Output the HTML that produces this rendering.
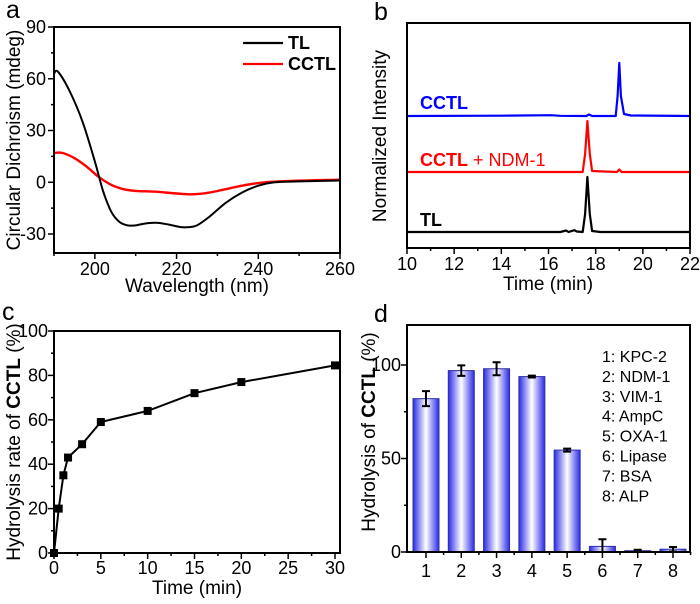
<!DOCTYPE html>
<html><head><meta charset="utf-8"><style>
body{margin:0;background:#fff}
svg text{font-family:"Liberation Sans",sans-serif}
</style></head><body>
<svg id="fig" width="700" height="599" viewBox="0 0 700 599" xmlns="http://www.w3.org/2000/svg">
<defs>
<linearGradient id="barg" x1="0" x2="1" y1="0" y2="0">
<stop offset="0" stop-color="#2a2ae8"/><stop offset="0.5" stop-color="#ffffff"/><stop offset="1" stop-color="#2a2ae8"/>
</linearGradient>
</defs>
<g id="pa"></g>
<g id="pb"></g>
<g id="pc"></g>
<g id="pd"></g>
</svg>
<script>
// Panel a data
const aWave = [190,191,194,197,200,202,204,206,208,210,212,215,218,221,223,225,228,232,236,240,244,250,260];
const aTL   = [63,64,52,35,12,-5,-17,-23,-25,-25,-24,-23.5,-24.5,-26,-26,-25,-20,-12,-6,-2,0,0.5,1];
const aWave2 = [190,192,195,198,201,204,207,210,215,220,224,228,232,236,240,245,260];
const aCCTL = [17,17,14,9,3,-1.5,-4,-5,-5.5,-6.5,-7,-6,-4,-2,-0.5,0.5,1.5];
const aXTicks = [200,220,240,260];
const aYTicks = [-30,0,30,60,90];
// Panel b data (time, intensity)
const bTime = [10,14,16.1,16.5,17.6,17.72,17.85,18.85,18.93,19.0,19.07,19.2,19.5,22];
const bCCTL = [0,0.3,0.8,0.2,0,1.5,0,0,20,53,20,2,0.5,0];
const bTime2 = [10,14,17.45,17.55,17.65,17.75,17.85,18.9,19.0,19.1,22];
const bNDM = [0,0,0,18,51,18,1,0,2.5,0,0];
const bTime3 = [10,16.5,16.75,16.85,17.1,17.2,17.45,17.55,17.65,17.75,17.85,18.2,22];
const bTL = [0,0,1.5,0,1.8,0.5,0,18,55,18,1,0,0];
const bXTicks = [10,12,14,16,18,20,22];
// Panel c data
const cTime = [0,0.5,1,1.5,3,5,10,15,20,30];
const cRate = [0,20,35,43,49,59,64,72,77,84.5];
const cXTicks = [0,5,10,15,20,25,30];
const cYTicks = [0,20,40,60,80,100];
// Panel d data
const dCats = [1,2,3,4,5,6,7,8];
const dVals = [82,97,98,93.8,54.5,3,0.7,1.5];
const dErr = [4,2.8,3.5,0.5,0.8,3.8,0.5,1.2];
const dNames = ["1: KPC-2","2: NDM-1","3: VIM-1","4: AmpC","5: OXA-1","6: Lipase","7: BSA","8: ALP"];
const dYTicks = [0,50,100];

const NS="http://www.w3.org/2000/svg";
function mk(parent,tag,attrs,txt){const e=document.createElementNS(NS,tag);for(const k in attrs)e.setAttribute(k,attrs[k]);if(txt!==undefined)e.textContent=txt;parent.appendChild(e);return e;}
function lin(d0,d1,p0,p1){return v=>p0+(v-d0)*(p1-p0)/(d1-d0);}
function frame(g,x0,y0,x1,y1){const r=mk(g,'rect',{x:x0,y:y0,width:x1-x0,height:y1-y0,fill:'none',stroke:'#000','stroke-width':2});}
function pathD(xs,ys,sx,sy){return xs.map((v,i)=>(i?'L':'M')+sx(v).toFixed(1)+','+sy(ys[i]).toFixed(1)).join('');}
function smoothD(xs,ys,sx,sy){
 const P=xs.map((v,i)=>[sx(v),sy(ys[i])]);let d='M'+P[0][0].toFixed(1)+','+P[0][1].toFixed(1);
 for(let i=0;i<P.length-1;i++){const p0=P[i-1]||P[i],p1=P[i],p2=P[i+1],p3=P[i+2]||P[i+1];
  const c1=[p1[0]+(p2[0]-p0[0])/6,p1[1]+(p2[1]-p0[1])/6],c2=[p2[0]-(p3[0]-p1[0])/6,p2[1]-(p3[1]-p1[1])/6];
  d+='C'+c1.map(n=>n.toFixed(1)).join(',')+' '+c2.map(n=>n.toFixed(1)).join(',')+' '+p2.map(n=>n.toFixed(1)).join(',');}
 return d;}

// ---------- Panel a ----------
(function(){
const g=document.getElementById('pa');
const X0=54,X1=340,Y0=27,Y1=253;
const sx=lin(190,260,X0,X1), sy=lin(90,-30,27,234);
let t=mk(g,'text',{x:6,y:18,'font-size':25},'a');

for(let v=190;v<=260;v+=10){mk(g,'line',{x1:sx(v),x2:sx(v),y1:Y1,y2:Y1+(v%20===0?6:3),stroke:'#000','stroke-width':1.5});}
aXTicks.forEach(v=>{const e=mk(g,'text',{x:sx(v),y:Y1+22,'font-size':18,'text-anchor':'middle'},v);});
for(let v=-30;v<=90;v+=15){mk(g,'line',{x1:X0,x2:X0-(v%30===0?6:3),y1:sy(v),y2:sy(v),stroke:'#000','stroke-width':1.5});}
aYTicks.forEach(v=>{const e=mk(g,'text',{x:X0-8,y:sy(v)+6,'font-size':18,'text-anchor':'end'},v);});
let p=mk(g,'path',{d:smoothD(aWave2,aCCTL,sx,sy),fill:'none',stroke:'#f00','stroke-width':2.4});

p=mk(g,'path',{d:smoothD(aWave,aTL,sx,sy),fill:'none',stroke:'#000','stroke-width':2});

frame(g,X0,Y0,X1,Y1);
mk(g,'line',{x1:243,x2:283,y1:43,y2:43,stroke:'#000','stroke-width':2.2});
t=mk(g,'text',{x:288,y:49,'font-size':18,'font-weight':'bold'},'TL');
mk(g,'line',{x1:243,x2:283,y1:64,y2:64,stroke:'#f00','stroke-width':2.2});
t=mk(g,'text',{x:288,y:70,'font-size':18,'font-weight':'bold'},'CCTL');
t=mk(g,'text',{x:197,y:292,'font-size':19,'text-anchor':'middle'},'Wavelength (nm)');
t=mk(g,'text',{x:0,y:0,'font-size':19,'text-anchor':'middle',transform:'translate(20,140) rotate(-90)'},'Circular Dichroism (mdeg)');
})();

// ---------- Panel b ----------
(function(){
const g=document.getElementById('pb');
const X0=407,X1=690,Y0=23,Y1=248;
const sx=lin(10,22,X0,X1);
let t=mk(g,'text',{x:374,y:20,'font-size':25},'b');

for(let v=10;v<=22;v+=1){mk(g,'line',{x1:sx(v),x2:sx(v),y1:Y1,y2:Y1+(v%2===0?6:3),stroke:'#000','stroke-width':1.5});}
bXTicks.forEach(v=>{const e=mk(g,'text',{x:sx(v),y:Y1+22,'font-size':18,'text-anchor':'middle'},v);});
const traces=[[bTime,bCCTL,116,'#00f','cctl-trace'],[bTime2,bNDM,172,'#f00','cctl-ndm1-trace'],[bTime3,bTL,232,'#000','tl-trace']];
traces.forEach(tr=>{const sy=v=>tr[2]-v;const p=mk(g,'path',{d:pathD(tr[0],tr[1],sx,sy),fill:'none',stroke:tr[3],'stroke-width':2.2,'stroke-linejoin':'round'});});
frame(g,X0,Y0,X1,Y1);
t=mk(g,'text',{x:420,y:109,'font-size':18,'font-weight':'bold',fill:'#00f'},'CCTL');
t=mk(g,'text',{x:420,y:166,'font-size':18,fill:'#f00'});
mk(t,'tspan',{'font-weight':'bold'},'CCTL');mk(t,'tspan',{},' + NDM-1');
t=mk(g,'text',{x:420,y:226,'font-size':18,'font-weight':'bold'},'TL');
t=mk(g,'text',{x:548,y:290,'font-size':19,'text-anchor':'middle'},'Time (min)');
t=mk(g,'text',{x:0,y:0,'font-size':19,'text-anchor':'middle',transform:'translate(386,136) rotate(-90)'},'Normalized Intensity');
})();

// ---------- Panel c ----------
(function(){
const g=document.getElementById('pc');
const X0=54,X1=340,Y0=331,Y1=553;
const sx=lin(0,30,X0,335), sy=lin(0,100,Y1,Y0);
let t=mk(g,'text',{x:2,y:320,'font-size':25},'c');

for(let v=0;v<=30;v+=2.5){mk(g,'line',{x1:sx(v),x2:sx(v),y1:Y1,y2:Y1+(v%5===0?6:3),stroke:'#000','stroke-width':1.5});}
cXTicks.forEach(v=>{const e=mk(g,'text',{x:sx(v),y:Y1+21,'font-size':18,'text-anchor':'middle'},v);});
for(let v=0;v<=100;v+=10){mk(g,'line',{x1:X0,x2:X0-(v%20===0?6:3),y1:sy(v),y2:sy(v),stroke:'#000','stroke-width':1.5});}
cYTicks.forEach(v=>{const e=mk(g,'text',{x:X0-6,y:sy(v)+6,'font-size':18,'text-anchor':'end'},v);});
frame(g,X0,Y0,X1,Y1);
let p=mk(g,'path',{d:pathD(cTime,cRate,sx,sy),fill:'none',stroke:'#000','stroke-width':2});

cTime.forEach((v,i)=>{const r=mk(g,'rect',{x:sx(v)-4,y:sy(cRate[i])-4,width:8,height:8,fill:'#000'});});
t=mk(g,'text',{x:197,y:594,'font-size':19,'text-anchor':'middle'},'Time (min)');
t=mk(g,'text',{x:0,y:0,'font-size':19,'text-anchor':'middle',transform:'translate(20,442) rotate(-90)'});
mk(t,'tspan',{},'Hydrolysis rate of ');mk(t,'tspan',{'font-weight':'bold'},'CCTL');mk(t,'tspan',{},' (%)');
})();

// ---------- Panel d ----------
(function(){
const g=document.getElementById('pd');
const X0=407,X1=690,Y0=325,Y1=552;
const sx=lin(1,8,426,673), sy=lin(0,100,Y1,365);
let t=mk(g,'text',{x:374,y:322,'font-size':25},'d');

dCats.forEach(v=>{mk(g,'line',{x1:sx(v),x2:sx(v),y1:Y1,y2:Y1+6,stroke:'#000','stroke-width':1.5});mk(g,'line',{x1:sx(v)+17.6,x2:sx(v)+17.6,y1:Y1,y2:Y1+3,stroke:'#000','stroke-width':1.5});const e=mk(g,'text',{x:sx(v),y:Y1+25,'font-size':18,'text-anchor':'middle'},v);});
for(let v=0;v<=100;v+=25){mk(g,'line',{x1:X0,x2:X0-(v%50===0?6:3),y1:sy(v),y2:sy(v),stroke:'#000','stroke-width':1.5});}
dYTicks.forEach(v=>{const e=mk(g,'text',{x:X0-6,y:sy(v)+6,'font-size':18,'text-anchor':'end'},v);});
dCats.forEach((c,i)=>{
 const b=mk(g,'rect',{x:sx(c)-13,y:sy(dVals[i]),width:26,height:Y1-sy(dVals[i]),fill:'url(#barg)',stroke:'#3030a0','stroke-width':1});
 
 const hi=sy(dVals[i]+dErr[i]),lo=sy(Math.max(0,dVals[i]-dErr[i]));
 const e=mk(g,'path',{d:`M${sx(c)},${hi}V${lo}M${sx(c)-4},${hi}H${sx(c)+4}M${sx(c)-4},${lo}H${sx(c)+4}`,stroke:'#000','stroke-width':2,fill:'none'});
 
});
frame(g,X0,Y0,X1,Y1);
dNames.forEach((n,i)=>{const e=mk(g,'text',{x:602,y:362+i*19.9,'font-size':16},n);});
t=mk(g,'text',{x:0,y:0,'font-size':19,'text-anchor':'middle',transform:'translate(375,432) rotate(-90)'});
mk(t,'tspan',{},'Hydrolysis of ');mk(t,'tspan',{'font-weight':'bold'},'CCTL');mk(t,'tspan',{},' (%)');
})();
</script>
</body></html>
